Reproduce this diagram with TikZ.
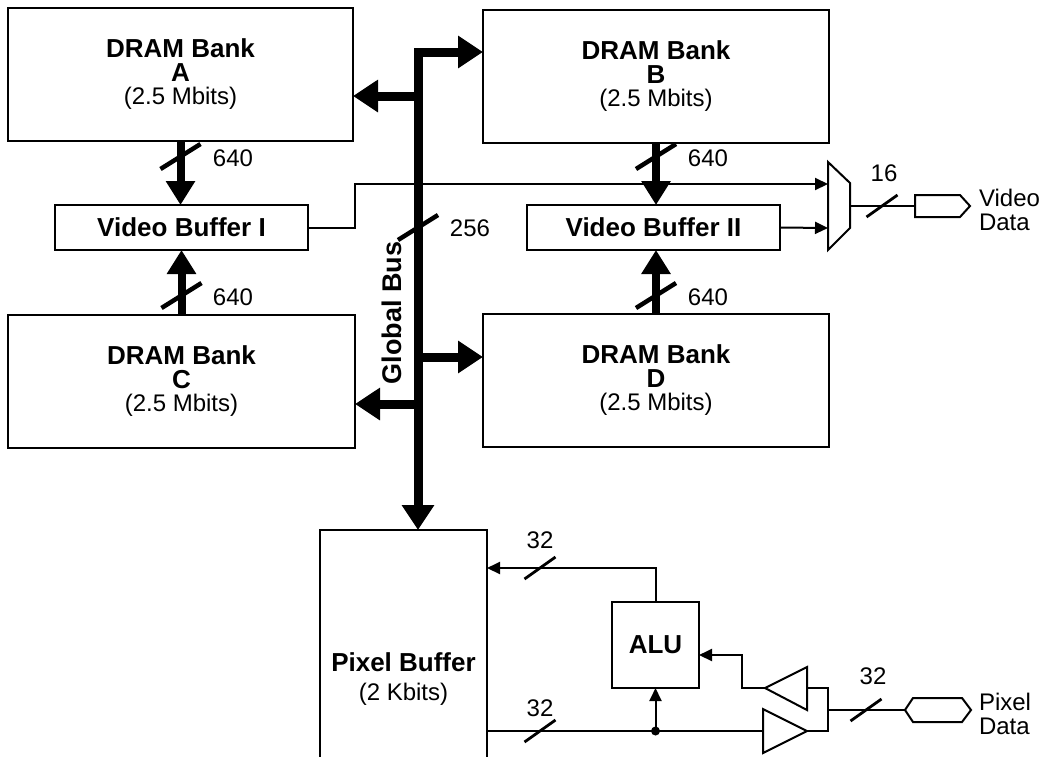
\documentclass[tikz,border=0pt]{standalone}
\usepackage{fontspec}
\setmainfont{Liberation Sans}
\usetikzlibrary{arrows.meta,calc}
\newcommand\bfont{\bfseries\fontsize{26}{23.5}\selectfont}
\newcommand\rfont{\fontsize{24}{23.5}\selectfont}
\tikzset{
  every node/.style={inner sep=0pt, outer sep=0pt},
  box/.style={draw, line width=2.2pt, align=center, font=\rfont},
  fat/.style={line width=8pt, -{Triangle[length=24pt,width=28pt]}},
  bus/.style={line width=9pt, line join=miter},
  bushead/.style={-{Triangle[length=25pt,width=31pt]}},
  thin/.style={line width=2pt},
  thinarrow/.style={line width=2pt, -{Triangle[length=13pt,width=12pt]}},
  slashthick/.style={line width=4.5pt},
  slashthin/.style={line width=2.8pt},
  lbl/.style={font=\rfont},
}
\newcommand\bslash[2]{\draw[#1] ([shift={(-20,12)}]#2) -- ([shift={(20,-13)}]#2);}
\newcommand\sslash[1]{\draw[slashthin] ([shift={(-15.5,11)}]#1) -- ([shift={(15.5,-11)}]#1);}
\begin{document}
\begin{tikzpicture}[x=1pt,y=-1pt]
\useasboundingbox (0,0) rectangle (1056,756);
% DRAM banks
\node[box, minimum width=345pt, minimum height=133pt] (A) at (180.5,74.5)
  {{\bfont DRAM Bank}\\{\bfont A}\\(2.5 Mbits)};
\node[box, minimum width=346pt, minimum height=133pt] (B) at (656,76.5)
  {{\bfont DRAM Bank}\\{\bfont B}\\(2.5 Mbits)};
\node[box, minimum width=347pt, minimum height=133pt] (C) at (181.5,381.5)
  {{\bfont DRAM Bank}\\{\bfont C}\\(2.5 Mbits)};
\node[box, minimum width=346pt, minimum height=133pt] (D) at (656,380.5)
  {{\bfont DRAM Bank}\\{\bfont D}\\(2.5 Mbits)};
% video buffers
\node[box, minimum width=253pt, minimum height=45pt, font=\bfont] (VB1) at (181.5,227.5) {Video Buffer I};
\node[box, minimum width=253pt, minimum height=45pt, font=\bfont] (VB2) at (653.5,227.5) {Video Buffer II};
% pixel buffer
\coordinate (PBnw) at (320,530);
\coordinate (PBne) at (487,530);
\draw[line width=1.2pt] (320,760) -- (PBnw) -- (PBne) -- (487,760);
\node[font=\bfont] (PBt) at (403.5,662) {Pixel Buffer};
\node[lbl] (PBs) at (403.5,694) {(2 Kbits)};
% ALU
\node[box, minimum width=87pt, minimum height=86pt, font=\bfont] (ALU) at (655.5,645) {ALU};

% global bus
\coordinate (bTop) at (418,52);
\coordinate (bA) at (418,96);
\coordinate (bD) at (418,357);
\coordinate (bC) at (418,404);
\draw[bus, bushead] (418,120) -- (bTop) -- (bTop -| B.west);
\draw[line width=9pt, bushead] (bTop) -- (bTop |- PBnw);
\draw[line width=9pt, bushead] (bA) -- (bA -| A.east);
\draw[line width=9pt, bushead] (bD) -- (bD -| D.west);
\draw[line width=9pt, bushead] (bC) -- (bC -| C.east);
\node[rotate=90, font=\bfseries\fontsize{27}{27}\selectfont] (GB) at (392,313) {Global Bus};
\coordinate (s256) at (418,228);
\bslash{slashthick}{s256}
\node[lbl] (l256) at (470,228) {256};

% bank <-> video buffer arrows
\draw[fat] (A.south) -- (A.south |- VB1.north);
\draw[fat] (C.north) -- (C.north |- VB1.south);
\draw[fat] (B.south) -- (B.south |- VB2.north);
\draw[fat] (D.north) -- (D.north |- VB2.south);
\coordinate (sA) at (180.5,157);
\coordinate (sC) at (181.5,296);
\coordinate (sB) at (656,157);
\coordinate (sD) at (656,296);
\bslash{slashthick}{sA}
\bslash{slashthick}{sC}
\bslash{slashthick}{sB}
\bslash{slashthick}{sD}
\node[lbl] (l1) at (233,158) {640};
\node[lbl] (l2) at (233,297) {640};
\node[lbl] (l3) at (708,158) {640};
\node[lbl] (l4) at (708,297) {640};

% multiplexer
\coordinate (m1) at (828,162);
\coordinate (m2) at (850,183);
\coordinate (m3) at (850,228);
\coordinate (m4) at (828,250);
\draw[thin, line join=miter] (m1) -- (m2) -- (m3) -- (m4) -- cycle;
\coordinate (mIn1) at (828,184);
\coordinate (mIn2) at (828,228);
\coordinate (mOut) at (850,206);
\draw[thinarrow] (VB1.east) -- (355,227.5) -- (355,184) -- (mIn1);
\draw[thinarrow] (VB2.east) -- (mIn2);
% video data connector
\coordinate (vc1) at (915,195);
\coordinate (vc2) at (960,195);
\coordinate (vc3) at (970,206);
\coordinate (vc4) at (960,217);
\coordinate (vc5) at (915,217);
\draw[thin, line join=miter] (vc1) -- (vc2) -- (vc3) -- (vc4) -- (vc5) -- cycle;
\draw[thin] (mOut) -- (915,206);
\coordinate (s16) at (882,206);
\sslash{s16}
\node[lbl] (l16) at (884,173) {16};
\node[lbl, anchor=west, align=left] (vd) at (979,210) {Video\\Data};

% ALU connections
\coordinate (aTop) at (655.5,568);
\draw[thinarrow] (ALU.north) -- (aTop) -- (aTop -| PBne);
\coordinate (s32a) at (540,568);
\sslash{s32a}
\node[lbl] (l32a) at (540,540) {32};
% lower bus
\coordinate (lowL) at (487,731);
\coordinate (dot) at (655.5,731);
\coordinate (t1a) at (763,709);
\coordinate (t1b) at (807,731);
\coordinate (t1c) at (763,753);
\draw[thin, line join=miter] (t1a) -- (t1b) -- (t1c) -- cycle;
\draw[thin] (lowL) -- (t1a |- lowL);
\fill (dot) circle (4.5pt);
\draw[thinarrow] (dot) -- (ALU.south);
\coordinate (s32b) at (540,731);
\sslash{s32b}
\node[lbl] (l32b) at (540,708) {32};
% upper (return) triangle
\coordinate (t2a) at (765,688);
\coordinate (t2b) at (807,667);
\coordinate (t2c) at (807,710);
\draw[thin, line join=miter] (t2a) -- (t2b) -- (t2c) -- cycle;
\coordinate (aIn) at (742,655);
\draw[thinarrow] (t2a) -- (aIn |- t2a) -- (aIn) -- (aIn -| ALU.east);
% junction
\draw[thin] (807,688) -- (828,688) -- (828,731) -- (t1b);
\coordinate (pj) at (828,710);
\coordinate (p1) at (905,710);
\coordinate (p2) at (913,698);
\coordinate (p3) at (962,698);
\coordinate (p4) at (971,710);
\coordinate (p5) at (962,722);
\coordinate (p6) at (913,722);
\draw[thin, line join=miter] (p1) -- (p2) -- (p3) -- (p4) -- (p5) -- (p6) -- cycle;
\draw[thin] (pj) -- (p1);
\coordinate (s32c) at (866,710);
\sslash{s32c}
\node[lbl] (l32c) at (873,676) {32};
\node[lbl, anchor=west, align=left] (pd) at (979,714) {Pixel\\Data};
\end{tikzpicture}
\end{document}
